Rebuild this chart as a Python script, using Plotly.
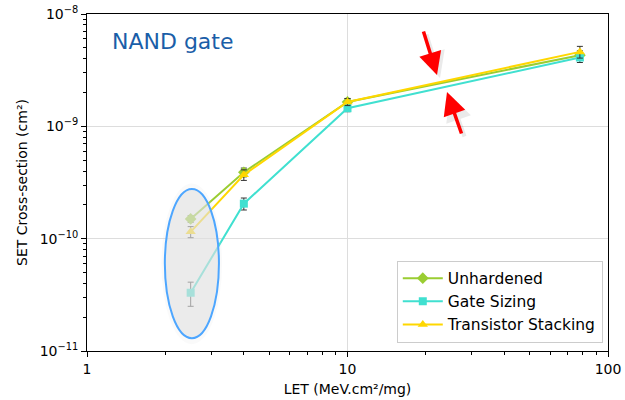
import plotly.graph_objects as go

# LET values (MeV.cm2/mg)
let_vals = [2.5, 4, 10, 78]

# SET cross-section (cm2) per hardening technique
unhardened = [1.5e-10, 3.9e-10, 1.65e-9, 4.3e-9]
gate_sizing = [3.3e-11, 2.05e-10, 1.45e-9, 4.1e-9]
stacking = [1.15e-10, 3.7e-10, 1.65e-9, 4.6e-9]

# Absolute error bars (cm2)
unhardened_err = [1.0e-11, 3.5e-11, 1.2e-10, 4.0e-10]
gate_sizing_err = [8.0e-12, 2.5e-11, 1.0e-10, 4.0e-10]
stacking_err = [1.3e-11, 4.0e-11, 1.2e-10, 5.5e-10]

y_tick_vals = [1e-11, 1e-10, 1e-9, 1e-8]
y_tick_text = ["10<sup>−11</sup>", "10<sup>−10</sup>", "10<sup>−9</sup>", "10<sup>−8</sup>"]

series = [
    ("Unhardened", unhardened, unhardened_err, "#9acd32", "diamond", 9),
    ("Gate Sizing", gate_sizing, gate_sizing_err, "#40e0d0", "square", 8),
    ("Transistor Stacking", stacking, stacking_err, "#ffd700", "triangle-up", 9),
]

fig = go.Figure()
for name, vals, errs, color, symbol, size in series:
    fig.add_trace(go.Scatter(
        x=let_vals, y=vals, name=name, mode="lines+markers",
        line=dict(color=color, width=2),
        marker=dict(color=color, symbol=symbol, size=size),
        error_y=dict(type="data", array=errs, visible=True,
                     color="#333333", thickness=1, width=3),
    ))

# Highlight around the low-LET measurements (soft halo + outlined ellipse)
fig.add_shape(type="circle", xref="x", yref="y",
              x0=1.93, x1=3.3, y0=1.15e-11, y1=3.1e-10,
              fillcolor="rgba(210,210,210,0.12)", line=dict(width=0),
              layer="above")
fig.add_shape(type="circle", xref="x", yref="y",
              x0=1.99, x1=3.21, y0=1.3e-11, y1=2.77e-10,
              fillcolor="rgba(225,225,225,0.6)",
              line=dict(color="#4da6ff", width=2), layer="above")

# Red arrows pointing at the converging curves (with soft shadow)
arrows = [((423, 30), (437, 75)), ((462, 135), (447, 92))]
for (tx, ty), (hx, hy) in arrows:
    fig.add_annotation(xref="paper", yref="paper", axref="pixel", ayref="pixel",
                       x=(hx + 3 - 87) / 521, y=1 - (hy + 3 - 14) / 337,
                       ax=tx - hx, ay=ty - hy, text="", showarrow=True,
                       arrowhead=2, arrowsize=1.3, arrowwidth=4,
                       arrowcolor="rgba(0,0,0,0.08)")
    fig.add_annotation(xref="paper", yref="paper", axref="pixel", ayref="pixel",
                       x=(hx - 87) / 521, y=1 - (hy - 14) / 337,
                       ax=tx - hx, ay=ty - hy, text="", showarrow=True,
                       arrowhead=2, arrowsize=1.3, arrowwidth=3.5,
                       arrowcolor="#ff0000")

fig.add_annotation(xref="paper", yref="paper", x=(110 - 87) / 521,
                   y=1 - (41 - 14) / 337, xanchor="left", yanchor="middle",
                   text="NAND gate", showarrow=False,
                   font=dict(size=22, color="#1a5ea8", family="DejaVu Sans"))

minor_x = [v * 10 ** d for d in range(0, 2) for v in range(2, 10)]
minor_y = [v * 10.0 ** d for d in range(-11, -8) for v in range(2, 10)]

axis_common = dict(
    type="log", showline=True, linecolor="black", linewidth=1, mirror=True,
    ticks="outside", ticklen=5, tickcolor="black", tickwidth=1,
    showgrid=True, gridcolor="#dddddd", gridwidth=1, zeroline=False,
    tickfont=dict(size=14, color="black"), automargin=False,
)

fig.update_xaxes(
    **axis_common, range=[0, 2], tickvals=[1, 10, 100], ticktext=["1", "10", "100"],
    minor=dict(tickvals=minor_x, ticks="outside", ticklen=3, tickcolor="black",
               showgrid=False),
    title=dict(text="LET (MeV.cm²/mg)", font=dict(size=14, color="black"), standoff=8),
)
fig.update_yaxes(
    **axis_common, range=[-11, -8], tickvals=y_tick_vals, ticktext=y_tick_text,
    minor=dict(tickvals=minor_y, ticks="outside", ticklen=3, tickcolor="black",
               showgrid=False),
    title=dict(text="SET Cross-section (cm²)", font=dict(size=14, color="black"), standoff=8),
)

fig.update_layout(
    width=625, height=400,
    margin=dict(l=87, r=17, t=14, b=49),
    plot_bgcolor="white", paper_bgcolor="white",
    font=dict(family="DejaVu Sans", color="black"),
    legend=dict(x=0.99, y=0.025, xanchor="right", yanchor="bottom",
                bgcolor="rgba(255,255,255,0.9)", bordercolor="#cccccc", borderwidth=1,
                font=dict(size=15.5), tracegroupgap=0, itemwidth=40),
    showlegend=True,
)

fig.write_html("out.html")
